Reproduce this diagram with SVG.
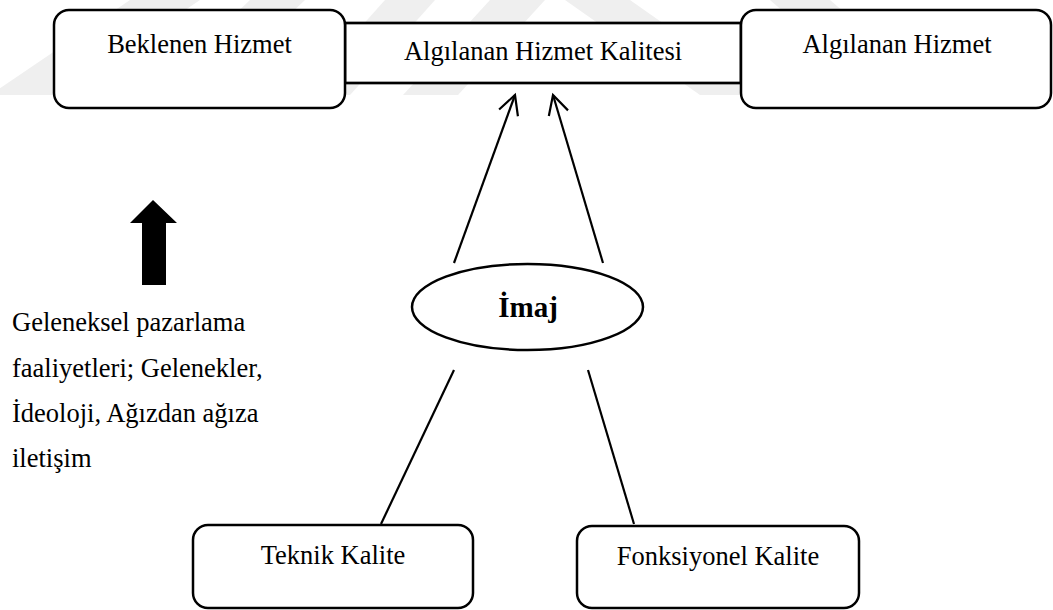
<svg xmlns="http://www.w3.org/2000/svg" width="1053" height="610" viewBox="0 0 1053 610">
<style>
.box{fill:#fff;stroke:#000;stroke-width:2.5}
.t{font-family:"Liberation Serif","Times New Roman",serif;font-size:26.5px;fill:#000}
.c{text-anchor:middle}
.line{stroke:#000;stroke-width:2.2;fill:none}
.wm{fill:#efefef}
</style>
<defs>
<marker id="open" markerUnits="userSpaceOnUse" markerWidth="30" markerHeight="30" refX="0" refY="0" orient="auto" overflow="visible">
<path d="M-19,-10 L0,0 L-19,10" fill="none" stroke="#000" stroke-width="2.2"/>
</marker>
</defs>
<rect width="1053" height="610" fill="#fff"/>
<g id="watermark">
<polygon class="wm" points="130,0 200,0 60,95 -10,95"/>
<polygon class="wm" points="250,0 305,0 205,95 150,95"/>
<polygon class="wm" points="385,0 435,0 350,95 300,95"/>
<polygon class="wm" points="490,0 545,0 458,95 403,95"/>
<polygon class="wm" points="565,0 630,0 765,95 700,95"/>
<polygon class="wm" points="770,0 830,0 940,95 880,95"/>
</g>
<g id="node-kalite">
<rect class="box" x="345" y="23" width="396" height="60" style="stroke-width:2.7"/>
<text class="t c" x="543" y="60">Algılanan Hizmet Kalitesi</text>
</g>
<g id="node-beklenen">
<rect class="box" x="54" y="10" width="291" height="98" rx="15" ry="15"/>
<text class="t c" x="199.5" y="53">Beklenen Hizmet</text>
</g>
<g id="node-algilanan">
<rect class="box" x="741" y="10" width="310" height="98" rx="15" ry="15"/>
<text class="t c" x="897" y="53">Algılanan Hizmet</text>
</g>
<g id="node-imaj">
<ellipse cx="527.5" cy="307" rx="115.5" ry="43" fill="#fff" stroke="#000" stroke-width="2.5"/>
<text class="c" x="528" y="317" style="font-family:'Liberation Serif','Times New Roman',serif;font-size:29px;font-weight:bold">İmaj</text>
</g>
<g id="node-teknik">
<rect class="box" x="193" y="525" width="280" height="83" rx="15" ry="15"/>
<text class="t c" x="333" y="564">Teknik Kalite</text>
</g>
<g id="node-fonksiyonel">
<rect class="box" x="577" y="526" width="282" height="82" rx="15" ry="15"/>
<text class="t c" x="718" y="565">Fonksiyonel Kalite</text>
</g>
<g id="node-geleneksel">
<polygon points="153,200 177,223 166,223 166,285 142,285 142,223 130,223" fill="#000"/>
<text class="t" x="12" y="331">Geleneksel pazarlama</text>
<text class="t" x="12" y="377">faaliyetleri; Gelenekler,</text>
<text class="t" x="12" y="422">İdeoloji, Ağızdan ağıza</text>
<text class="t" x="12" y="467">iletişim</text>
</g>
<g id="connectors">
<line class="line" x1="454" y1="263" x2="515" y2="95" marker-end="url(#open)"/>
<line class="line" x1="603" y1="263" x2="553" y2="95" marker-end="url(#open)"/>
<line class="line" x1="454" y1="370" x2="381" y2="524"/>
<line class="line" x1="588" y1="370" x2="634" y2="524"/>
</g>
</svg>
